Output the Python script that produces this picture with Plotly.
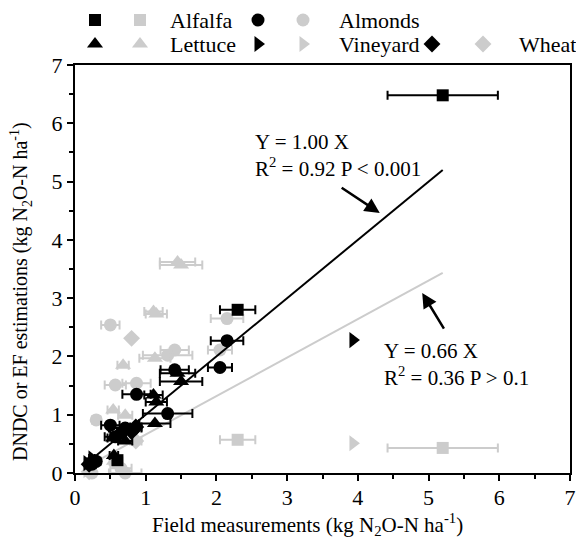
import plotly.graph_objects as go

# ---------------- data ----------------
crops = ["Alfalfa", "Almonds", "Lettuce", "Vineyard", "Wheat"]
symbols = ["square", "circle", "triangle-up", "triangle-right", "diamond"]

alfalfa_x = [5.20, 2.30, 0.60]
alfalfa_xerr = [0.78, 0.25, 0.06]
alfalfa_dndc = [6.48, 2.80, 0.22]
alfalfa_ef = [0.43, 0.57, 0.18]

almonds_x = [2.15, 2.05, 1.41, 1.31, 0.87, 0.50, 0.57, 0.71, 0.65, 0.30, 0.24]
almonds_xerr = [0.23, 0.17, 0.20, 0.35, 0.20, 0.13, 0.15, 0.23, 0.15, 0.06, 0.05]
almonds_dndc = [2.27, 1.81, 1.77, 1.02, 1.35, 0.82, 0.62, 0.77, 0.68, 0.20, 0.15]
almonds_ef = [2.65, 2.11, 2.11, 2.02, 1.54, 2.54, 1.51, 0.00, 0.08, 0.91, 0.00]

lettuce_x = [1.45, 1.50, 1.11, 1.15, 1.13, 0.68, 0.54, 0.71, 0.55]
lettuce_xerr = [0.25, 0.30, 0.13, 0.15, 0.22, 0.08, 0.08, 0.10, 0.06]
lettuce_dndc = [1.71, 1.57, 1.34, 1.22, 0.85, 0.72, 0.60, 0.55, 0.30]
lettuce_ef = [3.62, 3.57, 2.77, 2.73, 1.97, 1.85, 1.08, 0.99, 0.20]

vineyard_x = [3.93, 0.24, 0.17]
vineyard_xerr = [0.0, 0.04, 0.03]
vineyard_dndc = [2.28, 0.25, 0.17]
vineyard_ef = [0.51, 0.12, 0.05]

wheat_x = [0.80, 0.86, 0.20]
wheat_xerr = [0.0, 0.08, 0.03]
wheat_dndc = [0.71, 0.79, 0.15]
wheat_ef = [2.31, 0.55, 0.02]

# regression fits (through origin)
fit_slopes = [1.00, 0.66]
fit_x_range = [0.15, 5.20]
fit_labels = ["Y = 1.00 X<br>R<sup>2</sup> = 0.92 P < 0.001",
              "Y = 0.66 X<br>R<sup>2</sup> = 0.36 P > 0.1"]

x_ticks = [0, 1, 2, 3, 4, 5, 6, 7]
y_ticks = [0, 1, 2, 3, 4, 5, 6, 7]
x_title = "Field measurements (kg N<sub>2</sub>O-N ha<sup>-1</sup>)"
y_title = "DNDC or EF estimations (kg N<sub>2</sub>O-N ha<sup>-1</sup>)"

# ---------------- styling ----------------
BLACK = "#000000"
GRAY = "#cccccc"
FONT = "Liberation Serif"
marker_sizes = {"square": 12, "circle": 13, "triangle-up": 14,
                "triangle-right": 14, "diamond": 13}

W, H = 576, 539
x0px, x1px = 75, 570
y0px, y1px = 473, 65

fig = go.Figure()

series = [
    (alfalfa_x, alfalfa_xerr, alfalfa_dndc, alfalfa_ef),
    (almonds_x, almonds_xerr, almonds_dndc, almonds_ef),
    (lettuce_x, lettuce_xerr, lettuce_dndc, lettuce_ef),
    (vineyard_x, vineyard_xerr, vineyard_dndc, vineyard_ef),
    (wheat_x, wheat_xerr, wheat_dndc, wheat_ef),
]

def add_points(xs, xe, ys, sym, color, name):
    fig.add_trace(go.Scatter(
        x=xs, y=ys, mode="markers", name=name, showlegend=False,
        cliponaxis=False,
        marker=dict(symbol=sym, size=marker_sizes[sym], color=color,
                    line=dict(width=0)),
        error_x=dict(type="data", array=xe, visible=True, color=color,
                     thickness=2, width=4.5),
    ))

# gray (EF) points first
for crop, sym, (xs, xe, yd, ye) in zip(crops, symbols, series):
    add_points(xs, xe, ye, sym, GRAY, crop + " EF")

# fit lines
for slope, col in zip(fit_slopes, [BLACK, GRAY]):
    fig.add_trace(go.Scatter(
        x=fit_x_range, y=[slope * v for v in fit_x_range], mode="lines",
        line=dict(color=col, width=2), showlegend=False))

# black (DNDC) points
for crop, sym, (xs, xe, yd, ye) in zip(crops, symbols, series):
    add_points(xs, xe, yd, sym, BLACK, crop + " DNDC")

# ---------------- manual legend (overlay axes in pixel units) ----------------
legend_rows = [[0, 1], [2, 3, 4]]
legend_marker_x = [[95, 140], [258, 303], [432, 483]]
legend_text_x = [168, 337, 517]
legend_row_y = [20, 44]
for r, idxs in enumerate(legend_rows):
    for c, ci in enumerate(idxs):
        sym = symbols[ci]
        for col, mx in zip([BLACK, GRAY], legend_marker_x[c]):
            fig.add_trace(go.Scatter(
                x=[mx], y=[legend_row_y[r]], mode="markers", showlegend=False,
                xaxis="x2", yaxis="y2", cliponaxis=False,
                marker=dict(symbol=sym, size=marker_sizes[sym], color=col)))
        fig.add_annotation(x=legend_text_x[c], y=legend_row_y[r], xref="x2", yref="y2",
                           text=crops[ci], showarrow=False, xanchor="left",
                           yanchor="middle", font=dict(family=FONT, size=22, color="black"))

# axis titles (placed in pixel units)
fig.add_annotation(x=307, y=524, xref="x2", yref="y2", text=x_title,
                   showarrow=False, xanchor="center", yanchor="middle",
                   font=dict(family=FONT, size=21, color="black"))
fig.add_annotation(x=21, y=292, xref="x2", yref="y2", text=y_title, textangle=-90,
                   showarrow=False, xanchor="center", yanchor="middle",
                   font=dict(family=FONT, size=20, color="black"))

# fit annotations
fig.add_annotation(x=2.52, y=5.44, xref="x", yref="y", text=fit_labels[0],
                   showarrow=False, xanchor="left", yanchor="middle", align="left",
                   font=dict(family=FONT, size=21, color="black"))
fig.add_annotation(x=4.31, y=4.46, ax=3.75, ay=4.91, xref="x", yref="y",
                   axref="x", ayref="y", text="", showarrow=True,
                   arrowhead=2, arrowsize=1.2, arrowwidth=2.5, arrowcolor="black")
fig.add_annotation(x=4.34, y=1.87, xref="x", yref="y", text=fit_labels[1],
                   showarrow=False, xanchor="left", yanchor="middle", align="left",
                   font=dict(family=FONT, size=21, color="black"))
fig.add_annotation(x=4.91, y=3.09, ax=5.23, ay=2.45, xref="x", yref="y",
                   axref="x", ayref="y", text="", showarrow=True,
                   arrowhead=2, arrowsize=1.2, arrowwidth=2.5, arrowcolor="black")

axis_common = dict(showline=True, linecolor="black", linewidth=2, mirror=True,
                   ticks="outside", ticklen=6, tickwidth=2, tickcolor="black",
                   showgrid=False, zeroline=False, automargin=False,
                   tickfont=dict(family=FONT, size=22, color="black"),
                   minor=dict(dtick=0.5, ticks="outside", ticklen=4, tickwidth=2,
                              tickcolor="black", showgrid=False))

fig.update_layout(
    width=W, height=H,
    margin=dict(l=0, r=0, t=0, b=0, pad=0, autoexpand=False),
    paper_bgcolor="white", plot_bgcolor="rgba(0,0,0,0)",
    showlegend=False,
    xaxis=dict(range=[0, 7], tickvals=x_ticks, domain=[x0px / W, x1px / W],
               ticklabelstandoff=-2, **axis_common),
    yaxis=dict(range=[0, 7], tickvals=y_ticks,
               domain=[1 - y0px / H, 1 - y1px / H],
               **axis_common),
    xaxis2=dict(range=[0, W], domain=[0, 1], visible=False, anchor="y2",
                automargin=False),
    yaxis2=dict(range=[H, 0], domain=[0, 1], visible=False, anchor="x2",
                automargin=False),
)

fig.write_html("out.html", config={"displayModeBar": False},
               post_script="document.body.style.margin='0';document.body.style.padding='0';")
